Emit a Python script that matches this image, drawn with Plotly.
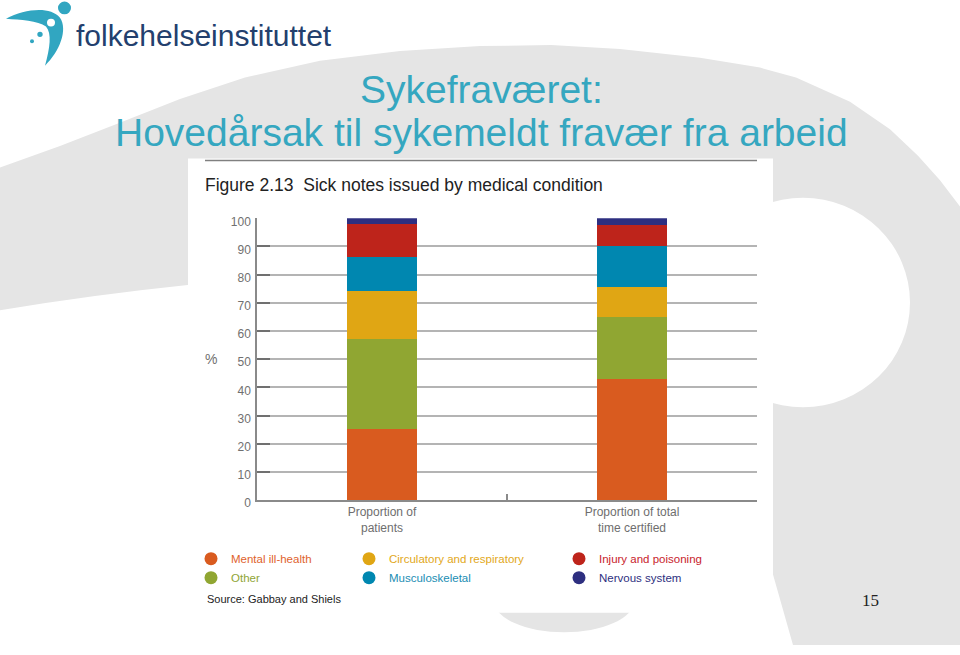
import plotly.graph_objects as go

# ---------------- data ----------------
categories = ["Proportion of<br>patients", "Proportion of total<br>time certified"]
conditions = ["Mental ill-health", "Other", "Circulatory and respiratory",
              "Musculoskeletal", "Injury and poisoning", "Nervous system"]
mental_ill_health = [25, 43]
other = [32, 22]
circulatory_respiratory = [17, 10.5]
musculoskeletal = [12, 14.5]
injury_poisoning = [12, 7.5]
nervous_system = [2, 2.5]
y_ticks = [0, 10, 20, 30, 40, 50, 60, 70, 80, 90, 100]

series = [mental_ill_health, other, circulatory_respiratory,
          musculoskeletal, injury_poisoning, nervous_system]
bar_colors = ["#d95b1f", "#90a632", "#e0a614", "#0087b0", "#be241b", "#2e2f80"]
text_colors = ["#e0622c", "#8fa535", "#e2a820", "#1a8db3", "#c8232c", "#2e3080"]
legend_ids = ["legend", "legend", "legend2", "legend2", "legend3", "legend3"]

W, H = 960, 655
FONT = "Liberation Sans, Arial, sans-serif"


def P(x, y):
    return f"{x / W:.5f},{1 - y / H:.5f}"


def path(cmds):
    out = []
    for c in cmds:
        if isinstance(c, str):
            out.append(c)
        else:
            out.append(P(*c))
    return " ".join(out)


fig = go.Figure()
for name, vals, col in zip(conditions, series, bar_colors):
    fig.add_trace(go.Bar(x=categories, y=vals, name=name, marker=dict(color=col, line=dict(width=0)),
                         width=0.28, showlegend=False, hoverinfo="y+name"))

# legend entries (circle markers, coloured text)
for name, col, tcol, lg in zip(conditions, bar_colors, text_colors, legend_ids):
    fig.add_trace(go.Scatter(x=[None], y=[None], mode="markers",
                             marker=dict(symbol="circle", size=13, color=col),
                             name=f'<span style="color:{tcol}">{name}</span>',
                             legend=lg, showlegend=True))

shapes = []
# big grey background swoosh
arc = [(0, 167), (60, 145), (116, 123), (180, 97), (245, 75), (320, 58), (400, 48),
       (480, 43), (551, 42), (620, 46), (700, 55), (760, 65), (796, 75), (850, 100),
       (890, 128), (918, 155), (940, 180), (960, 207)]
cmds = ["M", arc[0]]
for p in arc[1:]:
    cmds += ["L", p]
cmds += ["L", (960, 655), "L", (793, 655), "L", (773, 583), "L", (760, 540),
         "L", (190, 287), "Q", (95, 297), (0, 313), "Z"]
shapes.append(dict(type="path", xref="paper", yref="paper", path=path(cmds),
                   fillcolor="#e5e5e5", line=dict(width=0), layer="below"))
# white circle inside swoosh
cx, cy, r = 803, 305, 107
shapes.append(dict(type="circle", xref="paper", yref="paper",
                   x0=(cx - r) / W, x1=(cx + r) / W, y0=1 - (cy + r) / H, y1=1 - (cy - r) / H,
                   fillcolor="white", line=dict(width=0), layer="below"))
# bowl under chart
shapes.append(dict(type="circle", xref="paper", yref="paper",
                   x0=494 / W, x1=634 / W, y0=1 - 642 / H, y1=1 - 578 / H,
                   fillcolor="#e5e5e5", line=dict(width=0), layer="below"))
# chart image white panel
shapes.append(dict(type="rect", xref="paper", yref="paper",
                   x0=188 / W, x1=773 / W, y0=1 - 622 / H, y1=1 - 158 / H,
                   fillcolor="white", line=dict(width=0), layer="below"))
# rule above figure title
shapes.append(dict(type="line", xref="paper", yref="paper",
                   x0=205 / W, x1=757 / W, y0=1 - 160 / H, y1=1 - 160 / H,
                   line=dict(color="#808080", width=1.5), layer="below"))
# logo swoosh
teal = "#31a6c1"
logo = ["M", (6, 15), "C", (25, 5), (50, 2), (60, 14), "C", (68, 26), (60, 48), (45, 63),
        "C", (50, 45), (52, 30), (46, 23), "C", (38, 17), (20, 16), (6, 15), "Z"]
shapes.append(dict(type="path", xref="paper", yref="paper", path=path(logo),
                   fillcolor=teal, line=dict(width=0), layer="above"))
for (x, y, rr, c) in [(64.5, 4, 6.5, teal), (51, 19, 4, "white"), (40, 31, 2.7, teal), (32, 38, 2, teal)]:
    shapes.append(dict(type="circle", xref="paper", yref="paper",
                       x0=(x - rr) / W, x1=(x + rr) / W, y0=1 - (y + rr) / H, y1=1 - (y - rr) / H,
                       fillcolor=c, line=dict(width=0), layer="above"))

ann = []
ann.append(dict(text="folkehelseinstituttet", x=74 / W, y=1 - 32 / H, xanchor="left", yanchor="middle",
                font=dict(family=FONT, size=30, color="#23406e")))
ann.append(dict(text="Sykefraværet:", x=481 / W, y=1 - 87 / H, xanchor="center", yanchor="middle",
                font=dict(family=FONT, size=39, color="#35a7c0")))
ann.append(dict(text="Hovedårsak til sykemeldt fravær fra arbeid", x=481 / W, y=1 - 131 / H,
                xanchor="center", yanchor="middle", font=dict(family=FONT, size=39, color="#35a7c0")))
ann.append(dict(text="Figure 2.13\u00a0\u00a0Sick notes issued by medical condition", x=203 / W, y=1 - 185 / H,
                xanchor="left", yanchor="middle", font=dict(family=FONT, size=17.5, color="#222222")))
ann.append(dict(text="%", x=211 / W, y=1 - 363 / H, xanchor="center", yanchor="middle",
                font=dict(family=FONT, size=14, color="#707070")))
ann.append(dict(text="Source: Gabbay and Shiels", x=205 / W, y=1 - 608 / H, xanchor="left", yanchor="middle",
                font=dict(family=FONT, size=11, color="#222222")))
ann.append(dict(text="15", x=870 / W, y=1 - 610 / H, xanchor="center", yanchor="middle",
                font=dict(family="Liberation Serif, Times New Roman, serif", size=17, color="#222222")))
for a in ann:
    a.update(xref="paper", yref="paper", showarrow=False)

leg_common = dict(xanchor="left", yanchor="top", bgcolor="rgba(0,0,0,0)", borderwidth=0,
                  font=dict(family=FONT, size=11.5), itemsizing="trace", tracegroupgap=0,
                  orientation="v", traceorder="normal", itemclick=False, itemdoubleclick=False)

fig.update_layout(
    width=W, height=H, margin=dict(l=0, r=0, t=0, b=0),
    paper_bgcolor="white", plot_bgcolor="rgba(0,0,0,0)",
    barmode="stack", bargap=0,
    font=dict(family=FONT),
    shapes=shapes, annotations=ann,
    legend=dict(x=191 / W, y=1 - 552 / H, **leg_common),
    legend2=dict(x=349 / W, y=1 - 552 / H, **leg_common),
    legend3=dict(x=559 / W, y=1 - 552 / H, **leg_common),
    xaxis=dict(domain=[257 / W, 757 / W], type="category", range=[-0.5, 1.5],
               showline=True, linecolor="#8a8a8a", linewidth=1.5,
               ticks="inside", tickson="boundaries", ticklen=6, tickcolor="#8a8a8a", tickwidth=1.5,
               tickfont=dict(family=FONT, size=12, color="#6e6e6e"), showgrid=False, fixedrange=True),
    yaxis=dict(domain=[1 - 507 / H, 1 - 219 / H], range=[0, 100], tickvals=y_ticks,
               showgrid=True, gridcolor="#b4b4b4", gridwidth=1.5, zeroline=False,
               showline=True, linecolor="#8a8a8a", linewidth=1.5,
               ticks="inside", ticklen=13, tickcolor="#707070", tickwidth=1.5,
               ticklabelshift=3, ticklabelstandoff=2,
               tickfont=dict(family=FONT, size=12, color="#707070"), fixedrange=True),
)

post = ("var d=document.querySelector('.plotly-graph-div');"
        "d.style.position='fixed';d.style.top='0px';d.style.left='0px';"
        "document.documentElement.style.margin='0';document.documentElement.style.padding='0';"
        "document.documentElement.style.overflow='hidden';"
        "document.body.style.margin='0';document.body.style.padding='0';"
        "document.body.style.overflow='hidden';")
fig.write_html("out.html", config={"displayModeBar": False}, post_script=post)
